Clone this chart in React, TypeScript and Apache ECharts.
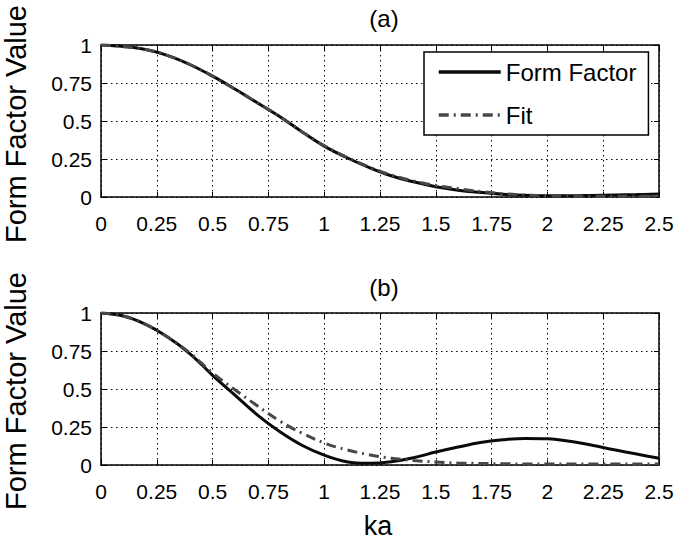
import React, { useEffect, useRef } from "react";
import * as echarts from "echarts";

const kaValues = [0, 0.1, 0.2, 0.3, 0.4, 0.5, 0.6, 0.7, 0.8, 0.9, 1.0, 1.1, 1.2, 1.3, 1.4, 1.5, 1.6, 1.7, 1.8, 1.9, 2.0, 2.1, 2.2, 2.3, 2.4, 2.5];

const formFactorA = [1.0, 0.99, 0.97, 0.93, 0.87, 0.795, 0.71, 0.62, 0.53, 0.43, 0.335, 0.26, 0.195, 0.14, 0.1, 0.068, 0.045, 0.03, 0.018, 0.011, 0.008, 0.008, 0.01, 0.013, 0.016, 0.02];
const fitA = [1.0, 0.99, 0.97, 0.93, 0.87, 0.795, 0.71, 0.62, 0.53, 0.43, 0.338, 0.262, 0.198, 0.145, 0.106, 0.076, 0.055, 0.036, 0.022, 0.013, 0.008, 0.006, 0.005, 0.005, 0.005, 0.005];

const formFactorB = [1.0, 0.98, 0.925, 0.84, 0.73, 0.59, 0.46, 0.33, 0.22, 0.13, 0.065, 0.022, 0.012, 0.022, 0.048, 0.085, 0.118, 0.148, 0.166, 0.175, 0.172, 0.156, 0.13, 0.1, 0.072, 0.045];
const fitB = [1.0, 0.98, 0.925, 0.84, 0.735, 0.605, 0.495, 0.39, 0.29, 0.21, 0.145, 0.1, 0.068, 0.045, 0.03, 0.02, 0.013, 0.01, 0.008, 0.007, 0.006, 0.006, 0.006, 0.006, 0.006, 0.006];

const xTicks = { min: 0, max: 2.5, interval: 0.25 };
const yTicks = { min: 0, max: 1, interval: 0.25 };
const panelTitles = ["(a)", "(b)"];
const seriesNames = ["Form Factor", "Fit"];
const yName = "Form Factor Value";
const xName = "ka";

const FONT = "'Liberation Sans', Arial, Helvetica, sans-serif";

function pairs(ys: number[]) {
  return kaValues.map((x, i) => [x, ys[i]]);
}

export default function App() {
  const ref = useRef<HTMLDivElement>(null);
  useEffect(() => {
    if (!ref.current) return;
    const chart = echarts.init(ref.current, null, { renderer: "svg" });
    const grids = [
      { left: 101, top: 45, width: 558, height: 152 },
      { left: 101, top: 313, width: 558, height: 152 },
    ];
    const axisLine = { show: true, onZero: false, lineStyle: { color: "#000", width: 1.5 } };
    const tick = { show: true, inside: true, length: 5, lineStyle: { color: "#000", width: 1 } };
    const split = { show: true, lineStyle: { color: "#000", width: 1, type: [1.5, 3.5] as any } };
    const xAxes: any[] = [];
    const yAxes: any[] = [];
    grids.forEach((_, gi) => {
      xAxes.push({
        type: "value", gridIndex: gi, position: "bottom", ...xTicks,
        axisLine, axisTick: tick, splitLine: split,
        axisLabel: { color: "#000", fontSize: 21, fontFamily: FONT, margin: 16 },
      });
      xAxes.push({
        type: "value", gridIndex: gi, position: "top", ...xTicks,
        axisLine, axisTick: tick, splitLine: { show: false }, axisLabel: { show: false },
      });
      yAxes.push({
        type: "value", gridIndex: gi, position: "left", ...yTicks,
        axisLine, axisTick: tick, splitLine: split,
        axisLabel: { color: "#000", fontSize: 21, fontFamily: FONT, margin: 9 },
      });
      yAxes.push({
        type: "value", gridIndex: gi, position: "right", ...yTicks,
        axisLine, axisTick: tick, splitLine: { show: false }, axisLabel: { show: false },
      });
    });
    const solidStyle = { color: "#0a0a0a", width: 3 };
    const fitStyle = { color: "#484848", width: 3, type: [10, 5, 2, 5] as any };
    const series: any[] = [
      { name: seriesNames[0], data: pairs(formFactorA), xAxisIndex: 0, yAxisIndex: 0, lineStyle: solidStyle, itemStyle: { color: "#0a0a0a" } },
      { name: seriesNames[1], data: pairs(fitA), xAxisIndex: 0, yAxisIndex: 0, lineStyle: fitStyle, itemStyle: { color: "#484848" } },
      { name: seriesNames[0], data: pairs(formFactorB), xAxisIndex: 2, yAxisIndex: 2, lineStyle: solidStyle, itemStyle: { color: "#0a0a0a" } },
      { name: seriesNames[1], data: pairs(fitB), xAxisIndex: 2, yAxisIndex: 2, lineStyle: fitStyle, itemStyle: { color: "#484848" } },
    ].map((s) => ({ ...s, type: "line", smooth: 0.4, symbol: "none", showSymbol: false }));

    chart.setOption({
      animation: false,
      backgroundColor: "#fff",
      textStyle: { fontFamily: FONT },
      grid: grids,
      xAxis: xAxes,
      yAxis: yAxes,
      series,
      title: [
        { text: panelTitles[0], left: 379, top: 1, textAlign: "center", textStyle: { fontSize: 24, fontWeight: "normal", color: "#000", fontFamily: FONT } },
        { text: panelTitles[1], left: 379, top: 270, textAlign: "center", textStyle: { fontSize: 24, fontWeight: "normal", color: "#000", fontFamily: FONT } },
      ],
      legend: {
        data: seriesNames,
        orient: "vertical",
        left: 424,
        top: 52,
        padding: [8, 12, 8, 13],
        itemGap: 19,
        itemWidth: 62,
        itemHeight: 14,
        backgroundColor: "#fff",
        borderColor: "#000",
        borderWidth: 1.5,
        borderRadius: 0,
        selectedMode: false,
        itemStyle: { opacity: 0, borderWidth: 0 },
        lineStyle: { width: 3.5 },
        textStyle: { fontSize: 24, color: "#000", fontFamily: FONT, padding: [0, 0, 0, 0] },
      },
      graphic: [
        { type: "text", x: 16, y: 124, rotation: Math.PI / 2, style: { text: yName, fontSize: 29, fontFamily: FONT, fill: "#000", align: "center", verticalAlign: "middle" } },
        { type: "text", x: 16, y: 391, rotation: Math.PI / 2, style: { text: yName, fontSize: 29, fontFamily: FONT, fill: "#000", align: "center", verticalAlign: "middle" } },
        { type: "text", x: 378, y: 526, style: { text: xName, fontSize: 27, fontFamily: FONT, fill: "#000", align: "center", verticalAlign: "middle" } },
      ],
    });
    return () => chart.dispose();
  }, []);
  return <div ref={ref} style={{ position: "fixed", left: 0, top: 0, width: 684, height: 545, background: "#fff" }} />;
}
